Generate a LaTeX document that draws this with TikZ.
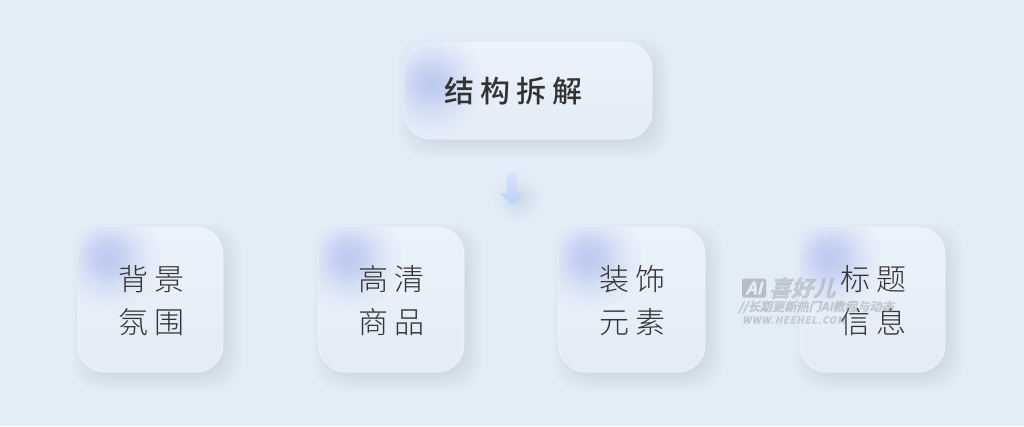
\documentclass[tikz,border=0pt]{standalone}
\usepackage{fontspec}
\usetikzlibrary{fadings}
\newfontfamily\cjkhead[LetterSpace=20]{Noto Sans CJK SC Medium}
\newfontfamily\cjkbody[LetterSpace=20]{Noto Sans CJK SC Light}
\newfontfamily\cjkmark[FakeSlant=0.25,FakeBold=1.5]{Noto Sans CJK SC Bold}
\definecolor{pagebg}{HTML}{E3EDF8}
\definecolor{cardtop}{HTML}{EBF2FB}
\definecolor{cardbottom}{HTML}{E3ECF7}
\definecolor{cardedge}{HTML}{EEF4FC}
\definecolor{cardshadow}{HTML}{A5B4CC}
\definecolor{blobcol}{HTML}{BDC9F0}
\definecolor{inktext}{HTML}{333333}
\definecolor{arrowtop}{HTML}{D6E3FA}
\definecolor{arrowbottom}{HTML}{BDCFFB}
\definecolor{markgray}{HTML}{8C8F94}
\pgfdeclareradialshading{softshade}{\pgfpointorigin}{color(0bp)=(white); color(7bp)=(black!22); color(14bp)=(black!62); color(21bp)=(black!90); color(27bp)=(black); color(50bp)=(black)}
\tikzfading[name=softfade, shading=softshade]
\tikzset{
  card/.style={draw=cardedge, line width=0.8pt, rounded corners=27pt, top color=cardtop, bottom color=cardbottom, inner sep=0pt},
  headtext/.style={font=\fontsize{30}{43}\selectfont\cjkhead, text=inktext, inner sep=0pt, anchor=center},
  bodytext/.style={font=\fontsize{30}{43}\selectfont\cjkbody, text=inktext, inner sep=0pt, align=center, anchor=center},
  marktext/.style={text=markgray, text opacity=0.34, inner sep=0pt, anchor=west}
}
% card: name, centre x, centre y, width, height, blob dx, blob dy
\newcommand{\softcard}[7]{
  \foreach \e in {-8,...,12}{
    \fill[cardshadow, opacity=0.016, rounded corners=27pt]
      ({#2-#4/2-\e+6},{#3-#5/2-\e+7}) rectangle ({#2+#4/2+\e+6},{#3+#5/2+\e+7});
  }
  \node[card, minimum width=#4pt, minimum height=#5pt] (#1) at (#2,#3) {};
  \begin{scope}
    \clip[rounded corners=27pt] ({#2-#4/2},{#3-#5/2}) rectangle ({#2+#4/2},{#3+#5/2});
    \fill[blobcol, path fading=softfade, fit fading=true] ({#2-#4/2+#6},{#3-#5/2+#7}) circle (52);
  \end{scope}
}
\begin{document}
\begin{tikzpicture}[x=1pt,y=-1pt]
  \useasboundingbox (0,0) rectangle (1024,426);
  \fill[pagebg] (0,0) rectangle (1024,426);

  % top card
  \softcard{head}{528}{90.5}{248}{97}{27}{41}
  \node[headtext] (headlabel) at (513,91) {结构拆解};

  % arrow
  \fill[cardshadow, opacity=0.3, path fading=softfade, fit fading=true] (518,198) circle (26);
  \shade[top color=arrowtop, bottom color=arrowbottom]
    (507,173) -- (517,173) -- (517,193) -- (524,193) -- (512,205) -- (500,193) -- (507,193) -- cycle;

  % bottom cards
  \softcard{bg}{150.5}{299.5}{145}{145}{30}{31}
  \softcard{goods}{391.5}{299.5}{145}{145}{30}{31}
  \softcard{deco}{632}{299.5}{146}{145}{30}{31}
  \softcard{title}{872.5}{299.5}{145}{145}{30}{31}

  % labels
  \node[bodytext] (bglabel) at (151,300.5) {背景\\氛围};
  \node[bodytext] (goodslabel) at (391.5,300.5) {高清\\商品};
  \node[bodytext] (decolabel) at (632.5,300.5) {装饰\\元素};
  \node[bodytext] (titlelabel) at (873,300.5) {标题\\信息};

  % watermark
  \node[fill=markgray, fill opacity=0.5, text opacity=1, text=pagebg, rounded corners=2pt,
    minimum width=24pt, minimum height=19pt, inner sep=0pt,
    font=\fontsize{17}{17}\selectfont\cjkmark] (markai) at (754,288) {AI};
  \node[marktext, font=\fontsize{22}{22}\selectfont\cjkmark] (markname) at (769,288) {喜好儿};
  \node[marktext, font=\fontsize{12.2}{12}\selectfont\cjkmark] (markline) at (738,307) {//长期更新热门AI教程与动态};
  \node[marktext, font=\fontsize{9.5}{10}\selectfont\cjkmark\addfontfeature{LetterSpace=10}] (markweb) at (742,320) {WWW.HEEHEL.COM};
\end{tikzpicture}
\end{document}
